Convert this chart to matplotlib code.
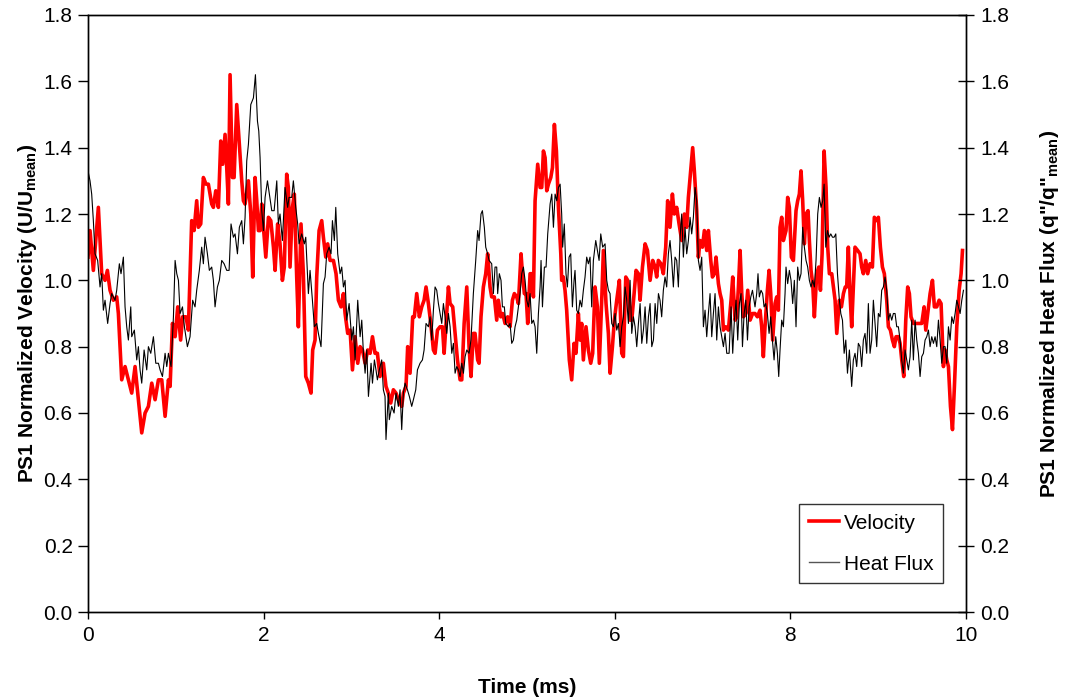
import matplotlib
matplotlib.use("Agg")
import matplotlib.pyplot as plt
from matplotlib.lines import Line2D
from matplotlib.ticker import FormatStrFormatter

# ---------------- data ----------------
vel_t = [0.0, 0.023, 0.061, 0.118, 0.156, 0.194, 0.221, 0.251, 0.289, 0.327, 0.346, 0.384, 0.422, 0.46, 0.498,
         0.536, 0.574, 0.612, 0.65, 0.688, 0.726, 0.764, 0.802, 0.84, 0.878, 0.916, 0.935, 0.962, 0.992, 1.022,
         1.055, 1.078, 1.116, 1.143, 1.181, 1.208, 1.238, 1.257, 1.284, 1.314, 1.344, 1.371, 1.409, 1.428, 1.455,
         1.485, 1.512, 1.534, 1.561, 1.58, 1.599, 1.618, 1.645, 1.664, 1.694, 1.724, 1.751, 1.77, 1.789, 1.827,
         1.854, 1.876, 1.903, 1.922, 1.941, 1.96, 1.979, 1.998, 2.025, 2.055, 2.082, 2.112, 2.131, 2.16, 2.187,
         2.214, 2.236, 2.263, 2.282, 2.301, 2.328, 2.35, 2.377, 2.396, 2.426, 2.453, 2.48, 2.51, 2.54, 2.559,
         2.586, 2.605, 2.632, 2.662, 2.681, 2.708, 2.73, 2.757, 2.795, 2.825, 2.852, 2.882, 2.909, 2.928, 2.958,
         2.985, 3.012, 3.042, 3.072, 3.099, 3.126, 3.156, 3.186, 3.213, 3.24, 3.269, 3.296, 3.326, 3.364, 3.394,
         3.421, 3.448, 3.478, 3.508, 3.535, 3.573, 3.592, 3.622, 3.641, 3.668, 3.698, 3.717, 3.744, 3.774, 3.801,
         3.828, 3.85, 3.877, 3.904, 3.934, 3.953, 3.98, 4.01, 4.037, 4.056, 4.078, 4.105, 4.124, 4.154, 4.181,
         4.208, 4.238, 4.257, 4.284, 4.314, 4.34, 4.362, 4.389, 4.408, 4.438, 4.454, 4.476, 4.503, 4.53, 4.552,
         4.579, 4.598, 4.628, 4.655, 4.674, 4.701, 4.723, 4.75, 4.78, 4.807, 4.834, 4.856, 4.883, 4.902, 4.932,
         4.948, 4.97, 4.989, 5.008, 5.035, 5.054, 5.073, 5.092, 5.122, 5.149, 5.168, 5.187, 5.206, 5.225, 5.244,
         5.271, 5.29, 5.312, 5.335, 5.358, 5.385, 5.395, 5.414, 5.433, 5.452, 5.482, 5.509, 5.536, 5.558, 5.585,
         5.604, 5.623, 5.642, 5.672, 5.699, 5.726, 5.748, 5.775, 5.802, 5.824, 5.851, 5.87, 5.9, 5.927, 5.946,
         5.973, 5.995, 6.022, 6.052, 6.079, 6.098, 6.125, 6.147, 6.174, 6.193, 6.22, 6.242, 6.269, 6.288, 6.315,
         6.345, 6.372, 6.402, 6.432, 6.459, 6.477, 6.496, 6.526, 6.553, 6.58, 6.602, 6.629, 6.656, 6.678, 6.705,
         6.732, 6.762, 6.792, 6.819, 6.838, 6.868, 6.887, 6.906, 6.933, 6.952, 6.971, 6.998, 7.02, 7.047, 7.066,
         7.093, 7.112, 7.134, 7.153, 7.18, 7.199, 7.218, 7.237, 7.264, 7.294, 7.324, 7.343, 7.37, 7.389, 7.408,
         7.427, 7.446, 7.465, 7.492, 7.514, 7.541, 7.57, 7.597, 7.624, 7.654, 7.673, 7.692, 7.711, 7.738, 7.757,
         7.776, 7.798, 7.825, 7.844, 7.863, 7.882, 7.901, 7.92, 7.95, 7.969, 7.988, 8.011, 8.034, 8.064, 8.083,
         8.102, 8.121, 8.14, 8.159, 8.178, 8.201, 8.216, 8.235, 8.254, 8.273, 8.3, 8.323, 8.342, 8.361, 8.384,
         8.406, 8.425, 8.444, 8.471, 8.49, 8.509, 8.528, 8.558, 8.581, 8.604, 8.625, 8.641, 8.66, 8.679, 8.698,
         8.717, 8.736, 8.766, 8.793, 8.812, 8.831, 8.858, 8.88, 8.907, 8.934, 8.956, 8.983, 9.002, 9.025, 9.048,
         9.07, 9.097, 9.116, 9.139, 9.162, 9.184, 9.203, 9.23, 9.249, 9.268, 9.291, 9.314, 9.336, 9.355, 9.374,
         9.401, 9.439, 9.466, 9.496, 9.523, 9.542, 9.564, 9.591, 9.618, 9.64, 9.667, 9.694, 9.716, 9.743, 9.762,
         9.781, 9.8, 9.823, 9.846, 9.868, 9.895, 9.922, 9.944, 9.96]
vel_v = [1.07, 1.15, 1.03, 1.22, 1.02, 1.00, 1.03, 0.97, 0.94, 0.95, 0.90, 0.70, 0.74, 0.70, 0.66,
         0.74, 0.64, 0.54, 0.60, 0.62, 0.69, 0.64, 0.70, 0.70, 0.59, 0.70, 0.68, 0.87, 0.83, 0.92,
         0.82, 0.89, 0.89, 0.85, 1.18, 1.15, 1.24, 1.16, 1.17, 1.31, 1.29, 1.29, 1.23, 1.22, 1.27,
         1.22, 1.42, 1.35, 1.44, 1.34, 1.23, 1.62, 1.31, 1.31, 1.53, 1.41, 1.30, 1.24, 1.23, 1.30,
         1.20, 1.01, 1.31, 1.24, 1.15, 1.15, 1.23, 1.16, 1.07, 1.19, 1.18, 1.10, 1.03, 1.17, 1.11,
         1.00, 1.04, 1.32, 1.28, 1.04, 1.22, 1.26, 1.01, 0.86, 1.17, 1.02, 0.71, 0.69, 0.66, 0.79,
         0.82, 1.01, 1.15, 1.18, 1.13, 1.07, 1.11, 1.06, 1.06, 1.02, 0.94, 0.92, 0.96, 0.90, 0.84,
         0.85, 0.73, 0.83, 0.75, 0.80, 0.79, 0.75, 0.79, 0.78, 0.83, 0.78, 0.78, 0.71, 0.75, 0.68,
         0.66, 0.63, 0.67, 0.66, 0.64, 0.62, 0.66, 0.68, 0.80, 0.72, 0.89, 0.89, 0.96, 0.89, 0.92,
         0.94, 0.98, 0.93, 0.87, 0.79, 0.78, 0.85, 0.86, 0.86, 0.78, 0.87, 0.98, 0.93, 0.92, 0.84,
         0.76, 0.70, 0.70, 0.87, 0.98, 0.80, 0.71, 0.84, 0.84, 0.76, 0.75, 0.89, 0.98, 1.02, 1.08,
         0.98, 0.95, 0.95, 0.88, 0.94, 0.89, 0.90, 0.87, 0.89, 0.86, 0.94, 0.96, 0.95, 0.93, 1.08,
         1.02, 0.96, 0.96, 0.87, 1.02, 1.02, 0.95, 1.24, 1.35, 1.28, 1.28, 1.39, 1.37, 1.27, 1.29,
         1.31, 1.34, 1.47, 1.39, 1.22, 1.08, 1.00, 1.01, 0.97, 0.91, 0.76, 0.70, 0.81, 0.78, 0.90,
         0.82, 0.87, 0.76, 0.86, 0.79, 0.75, 0.78, 0.98, 0.92, 0.75, 0.94, 1.09, 0.93, 0.84, 0.72,
         0.80, 0.88, 0.94, 1.00, 0.78, 0.77, 1.01, 1.00, 0.88, 0.88, 0.96, 1.03, 1.02, 0.94, 1.04,
         1.11, 1.09, 1.00, 1.06, 1.04, 1.01, 1.06, 1.05, 1.02, 1.10, 1.24, 1.16, 1.26, 1.20, 1.22,
         1.17, 1.12, 1.20, 1.16, 1.25, 1.34, 1.40, 1.33, 1.21, 1.07, 1.12, 1.10, 1.15, 1.09, 1.15,
         1.06, 1.01, 1.02, 1.07, 0.99, 0.96, 0.94, 0.85, 0.86, 0.85, 0.94, 1.01, 0.88, 0.89, 0.98,
         1.09, 0.96, 0.89, 0.90, 0.97, 0.88, 0.90, 0.90, 0.89, 0.91, 0.86, 0.77, 0.86, 0.97, 1.03,
         0.96, 0.82, 0.93, 0.95, 0.91, 1.16, 1.19, 1.12, 1.15, 1.25, 1.22, 1.07, 1.06, 1.21, 1.24,
         1.26, 1.33, 1.24, 1.11, 1.20, 1.21, 1.12, 1.03, 0.99, 0.89, 1.02, 1.04, 0.97, 1.08, 1.39,
         1.28, 1.10, 1.02, 1.02, 0.98, 0.94, 0.84, 0.94, 0.92, 0.96, 0.98, 0.98, 1.10, 0.96, 0.86,
         0.98, 1.10, 1.09, 1.08, 1.04, 1.02, 1.06, 1.02, 1.05, 1.04, 1.19, 1.18, 1.19, 1.10, 1.04,
         1.02, 0.94, 0.86, 0.85, 0.82, 0.80, 0.83, 0.83, 0.81, 0.76, 0.71, 0.88, 0.98, 0.96, 0.89,
         0.87, 0.87, 0.87, 0.87, 0.92, 0.85, 0.90, 0.96, 1.00, 0.92, 0.92, 0.94, 0.93, 0.74, 0.79,
         0.76, 0.74, 0.62, 0.55, 0.68, 0.86, 0.97, 1.02, 1.09]

hf_t = [0.0, 0.023, 0.042, 0.061, 0.08, 0.11, 0.137, 0.156, 0.175, 0.194, 0.224, 0.251, 0.27, 0.308, 0.327,
        0.357, 0.376, 0.403, 0.422, 0.441, 0.46, 0.487, 0.498, 0.528, 0.555, 0.574, 0.593, 0.612, 0.639, 0.669,
        0.688, 0.715, 0.745, 0.772, 0.802, 0.821, 0.848, 0.878, 0.897, 0.916, 0.946, 0.973, 0.992, 1.011, 1.03,
        1.049, 1.076, 1.098, 1.132, 1.162, 1.192, 1.219, 1.238, 1.268, 1.295, 1.314, 1.333, 1.36, 1.382, 1.409,
        1.428, 1.447, 1.474, 1.496, 1.523, 1.55, 1.58, 1.607, 1.629, 1.656, 1.675, 1.702, 1.724, 1.751, 1.77,
        1.789, 1.808, 1.827, 1.854, 1.884, 1.907, 1.93, 1.945, 1.96, 1.979, 1.998, 2.017, 2.044, 2.066, 2.093,
        2.12, 2.15, 2.168, 2.187, 2.214, 2.244, 2.274, 2.29, 2.32, 2.339, 2.366, 2.388, 2.404, 2.434, 2.464,
        2.48, 2.51, 2.529, 2.556, 2.578, 2.605, 2.624, 2.654, 2.681, 2.7, 2.719, 2.746, 2.768, 2.784, 2.806,
        2.822, 2.844, 2.871, 2.89, 2.909, 2.928, 2.947, 2.974, 3.004, 3.023, 3.042, 3.072, 3.099, 3.118, 3.137,
        3.156, 3.175, 3.194, 3.224, 3.24, 3.262, 3.28, 3.296, 3.318, 3.345, 3.364, 3.383, 3.394, 3.421, 3.432,
        3.459, 3.486, 3.508, 3.535, 3.554, 3.573, 3.592, 3.611, 3.638, 3.66, 3.687, 3.706, 3.733, 3.752, 3.782,
        3.809, 3.828, 3.85, 3.877, 3.896, 3.915, 3.934, 3.953, 3.972, 3.991, 4.01, 4.029, 4.048, 4.067, 4.086,
        4.105, 4.124, 4.143, 4.162, 4.181, 4.2, 4.219, 4.238, 4.257, 4.276, 4.295, 4.314, 4.34, 4.362, 4.389,
        4.416, 4.438, 4.454, 4.476, 4.492, 4.514, 4.53, 4.552, 4.568, 4.598, 4.617, 4.636, 4.655, 4.666, 4.685,
        4.704, 4.72, 4.742, 4.758, 4.788, 4.807, 4.826, 4.845, 4.864, 4.883, 4.902, 4.921, 4.94, 4.959, 4.978,
        4.997, 5.016, 5.035, 5.054, 5.073, 5.092, 5.111, 5.13, 5.149, 5.16, 5.176, 5.198, 5.217, 5.236, 5.263,
        5.282, 5.301, 5.32, 5.339, 5.358, 5.377, 5.395, 5.406, 5.425, 5.444, 5.46, 5.479, 5.498, 5.517, 5.536,
        5.547, 5.566, 5.585, 5.604, 5.623, 5.642, 5.661, 5.68, 5.699, 5.718, 5.737, 5.756, 5.783, 5.802, 5.821,
        5.84, 5.862, 5.889, 5.908, 5.927, 5.946, 5.965, 5.984, 6.003, 6.022, 6.041, 6.06, 6.079, 6.098, 6.117,
        6.136, 6.155, 6.174, 6.193, 6.212, 6.231, 6.25, 6.269, 6.288, 6.307, 6.326, 6.345, 6.364, 6.383, 6.402,
        6.421, 6.44, 6.459, 6.478, 6.497, 6.515, 6.534, 6.553, 6.572, 6.591, 6.61, 6.629, 6.648, 6.667, 6.686,
        6.705, 6.724, 6.743, 6.762, 6.781, 6.8, 6.819, 6.838, 6.857, 6.876, 6.895, 6.914, 6.933, 6.952, 6.971,
        6.99, 7.009, 7.028, 7.047, 7.066, 7.085, 7.104, 7.123, 7.142, 7.161, 7.18, 7.199, 7.218, 7.237, 7.256,
        7.275, 7.302, 7.324, 7.343, 7.362, 7.381, 7.4, 7.419, 7.438, 7.454, 7.473, 7.492, 7.511, 7.53, 7.549,
        7.568, 7.597, 7.616, 7.631, 7.646, 7.665, 7.684, 7.7, 7.719, 7.738, 7.757, 7.776, 7.795, 7.814, 7.833,
        7.852, 7.867, 7.882, 7.901, 7.92, 7.939, 7.95, 7.969, 7.988, 8.007, 8.026, 8.045, 8.064, 8.083, 8.102,
        8.121, 8.14, 8.159, 8.178, 8.197, 8.216, 8.235, 8.254, 8.273, 8.292, 8.311, 8.33, 8.349, 8.368, 8.384,
        8.403, 8.422, 8.441, 8.46, 8.479, 8.498, 8.517, 8.536, 8.555, 8.574, 8.593, 8.612, 8.631, 8.65, 8.672,
        8.698, 8.717, 8.736, 8.755, 8.774, 8.793, 8.812, 8.831, 8.85, 8.869, 8.888, 8.907, 8.926, 8.945, 8.964,
        8.983, 9.002, 9.021, 9.04, 9.059, 9.078, 9.097, 9.116, 9.135, 9.154, 9.173, 9.192, 9.211, 9.23, 9.249,
        9.268, 9.287, 9.306, 9.325, 9.344, 9.363, 9.382, 9.401, 9.42, 9.439, 9.458, 9.477, 9.496, 9.515, 9.534,
        9.553, 9.572, 9.591, 9.61, 9.629, 9.648, 9.667, 9.686, 9.705, 9.724, 9.743, 9.762, 9.781, 9.8, 9.819,
        9.838, 9.857, 9.876, 9.895, 9.914, 9.933, 9.952, 9.971]
hf_q = [1.33, 1.30, 1.26, 1.18, 1.08, 1.06, 0.98, 1.02, 0.91, 0.94, 0.87, 0.93, 0.96, 0.94, 0.97,
        1.05, 1.02, 1.07, 0.92, 0.86, 0.82, 0.92, 0.83, 0.85, 0.76, 0.80, 0.73, 0.69, 0.79, 0.73,
        0.80, 0.78, 0.83, 0.75, 0.75, 0.73, 0.71, 0.78, 0.74, 0.78, 0.74, 0.89, 1.06, 1.02, 1.00,
        0.90, 0.92, 0.86, 0.80, 0.83, 0.94, 0.92, 0.97, 1.03, 1.10, 1.05, 1.13, 1.08, 1.03, 1.04,
        1.00, 0.92, 0.98, 1.00, 1.06, 1.05, 1.03, 1.03, 1.17, 1.13, 1.14, 1.08, 1.16, 1.18, 1.11,
        1.19, 1.36, 1.41, 1.53, 1.55, 1.62, 1.48, 1.45, 1.37, 1.21, 1.15, 1.25, 1.30, 1.26, 1.21,
        1.21, 1.30, 1.17, 1.20, 1.12, 1.28, 1.22, 1.25, 1.25, 1.30, 1.22, 1.17, 1.11, 1.14, 1.11,
        1.13, 0.96, 1.03, 0.94, 0.86, 0.87, 0.84, 0.80, 0.99, 1.01, 1.08, 1.10, 1.08, 1.18, 1.12,
        1.22, 1.08, 1.02, 1.04, 0.98, 1.00, 0.88, 0.93, 0.82, 0.86, 0.76, 0.94, 0.83, 0.88, 0.78,
        0.72, 0.79, 0.65, 0.75, 0.69, 0.76, 0.73, 0.70, 0.73, 0.76, 0.67, 0.65, 0.52, 0.66, 0.58,
        0.62, 0.60, 0.66, 0.62, 0.67, 0.55, 0.66, 0.69, 0.67, 0.65, 0.62, 0.64, 0.67, 0.73, 0.75,
        0.76, 0.79, 0.87, 0.86, 0.89, 0.82, 0.91, 0.98, 0.97, 0.93, 0.90, 0.87, 0.93, 0.89, 0.84,
        0.90, 0.86, 0.78, 0.81, 0.72, 0.74, 0.73, 0.71, 0.75, 0.72, 0.77, 0.79, 0.78, 0.82, 0.96,
        1.06, 1.15, 1.12, 1.20, 1.21, 1.16, 1.10, 1.08, 1.06, 1.05, 0.96, 1.04, 1.04, 0.96, 1.02,
        1.00, 0.92, 0.92, 0.87, 0.86, 0.87, 0.81, 0.82, 0.86, 0.88, 0.92, 0.96, 1.02, 1.04, 1.00,
        0.94, 0.92, 0.96, 0.87, 0.88, 0.86, 0.78, 0.90, 0.98, 1.06, 0.92, 1.04, 1.04, 1.14, 1.23,
        1.26, 1.16, 1.26, 1.24, 1.28, 1.29, 1.20, 1.10, 1.17, 1.02, 0.98, 1.07, 1.08, 0.92, 1.00,
        1.03, 0.91, 0.90, 0.94, 0.92, 0.97, 1.01, 1.07, 1.05, 1.07, 0.92, 1.06, 1.12, 1.09, 1.06,
        1.14, 1.10, 1.11, 1.00, 0.97, 0.96, 0.87, 0.86, 0.90, 0.85, 0.87, 0.80, 0.86, 0.89, 0.98,
        0.94, 0.87, 1.00, 0.84, 0.89, 0.86, 0.80, 0.87, 0.93, 0.81, 0.85, 0.92, 0.81, 0.89, 0.93,
        0.80, 0.82, 0.93, 0.87, 0.96, 0.94, 0.89, 0.97, 1.01, 0.98, 1.08, 1.12, 1.06, 0.98, 1.07,
        1.06, 0.98, 1.13, 1.20, 1.07, 1.16, 1.08, 1.12, 1.19, 1.14, 1.19, 1.28, 1.24, 1.06, 1.03,
        1.07, 0.86, 0.91, 0.83, 0.90, 0.96, 0.83, 0.90, 0.96, 0.82, 0.92, 0.86, 0.83, 0.80, 0.84,
        0.78, 0.78, 0.92, 0.78, 0.88, 0.94, 0.82, 0.93, 0.96, 0.80, 0.90, 0.94, 0.82, 0.92, 0.95,
        0.97, 0.92, 0.96, 1.02, 0.95, 0.97, 0.96, 0.92, 0.93, 0.90, 0.84, 0.89, 0.82, 0.76, 0.83,
        0.78, 0.71, 0.79, 0.88, 0.86, 0.96, 1.04, 0.99, 1.03, 1.00, 0.93, 1.00, 0.86, 1.04, 1.00,
        1.02, 1.16, 1.10, 1.06, 1.04, 1.00, 0.98, 1.00, 0.98, 1.06, 1.20, 1.25, 1.22, 1.24, 1.29,
        1.10, 1.15, 1.13, 1.14, 1.13, 1.13, 1.14, 1.02, 0.95, 0.90, 0.88, 0.78, 0.82, 0.72, 0.79,
        0.68, 0.76, 0.78, 0.74, 0.81, 0.80, 0.74, 0.82, 0.84, 0.78, 0.93, 0.78, 0.82, 0.94, 0.87,
        0.80, 0.90, 0.89, 0.97, 0.98, 1.01, 0.97, 0.88, 0.90, 0.88, 0.90, 0.90, 0.86, 0.86, 0.82,
        0.76, 0.72, 0.79, 0.76, 0.73, 0.77, 0.88, 0.76, 0.88, 0.82, 0.78, 0.71, 0.77, 0.78, 0.82,
        0.83, 0.85, 0.80, 0.83, 0.81, 0.83, 0.80, 0.88, 0.82, 0.75, 0.80, 0.80, 0.75, 0.86, 0.82,
        0.89, 0.87, 0.90, 0.94, 0.92, 0.90, 0.94, 0.97]

x_ticks = [0, 2, 4, 6, 8, 10]
y_ticks = [0.0, 0.2, 0.4, 0.6, 0.8, 1.0, 1.2, 1.4, 1.6, 1.8]
series_labels = ["Velocity", "Heat Flux"]

# ---------------- styling ----------------
plt.rcParams['font.family'] = ['Liberation Sans', 'DejaVu Sans']
plt.rcParams['mathtext.fontset'] = 'custom'
plt.rcParams['mathtext.bf'] = 'Liberation Sans:bold'
plt.rcParams['mathtext.rm'] = 'Liberation Sans:bold'
plt.rcParams['mathtext.default'] = 'bf'

FS = 15

fig = plt.figure(figsize=(10.67, 7.0), dpi=100)
ax = fig.add_axes([88/1067, 1-612/700, (966-88)/1067, (612-15)/700])
ax2 = ax.twinx()

ax.plot(vel_t, vel_v, color='#ff0000', lw=2.6, solid_joinstyle='round', zorder=2)
ax2.plot(hf_t, hf_q, color='black', lw=0.8, zorder=3)

for a in (ax, ax2):
    a.set_xlim(0, 10)
    a.set_ylim(0, 1.8)
    a.set_yticks(y_ticks)
    a.yaxis.set_major_formatter(FormatStrFormatter('%.1f'))
    for s in a.spines.values():
        s.set_linewidth(1.0)
        s.set_color('black')

ax.set_xticks(x_ticks)
ax.set_xticklabels([str(v) for v in x_ticks])
ax.tick_params(axis='x', direction='out', length=5, width=1, labelsize=FS, pad=5)
ax.tick_params(axis='y', direction='out', length=7, width=1, labelsize=FS, pad=4)
ax2.tick_params(axis='y', direction='inout', length=11, width=1, labelsize=FS, pad=5)

ax.set_xlabel('Time (ms)', fontsize=FS, fontweight='bold', labelpad=24)
ax.set_ylabel('PS1 Normalized Velocity (U/U$_{mean}$)', fontsize=FS, fontweight='bold', labelpad=3)
ax2.set_ylabel('PS1 Normalized Heat Flux (q"/q"$_{mean}$)', fontsize=FS, fontweight='bold',
               rotation=90, labelpad=20)

handles = [Line2D([], [], color='#ff0000', lw=2.6), Line2D([], [], color='#555555', lw=1.0)]
leg = ax2.legend(handles, series_labels, loc='lower right', bbox_to_anchor=(0.974, 0.0486),
                 borderaxespad=0, fontsize=FS, frameon=True, fancybox=False,
                 handlelength=1.45, handletextpad=0.25, labelspacing=1.05, borderpad=0.45)
leg.get_frame().set_edgecolor('black')
leg.get_frame().set_linewidth(1.0)

fig.savefig('out.png', dpi=100)
